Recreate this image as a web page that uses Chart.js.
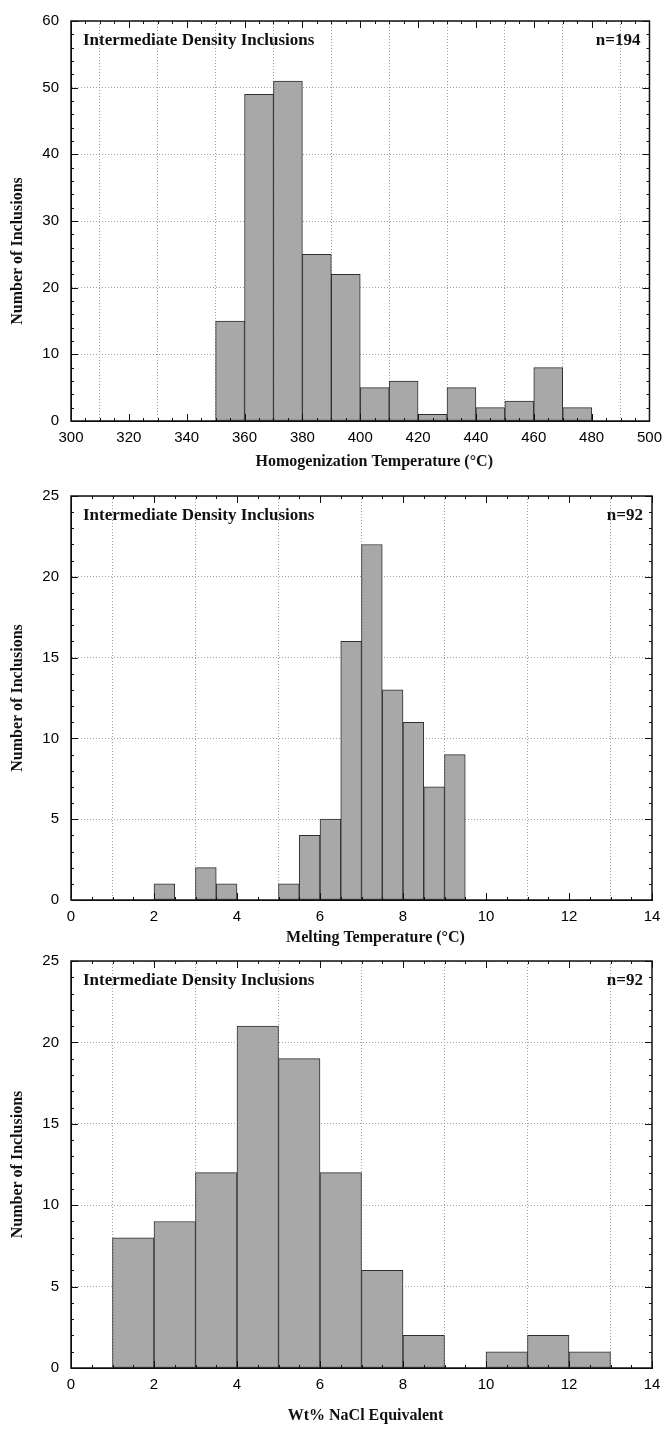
<!DOCTYPE html>
<html>
<head>
<meta charset="utf-8">
<script src="https://cdn.jsdelivr.net/npm/chart.js@4.4.1/dist/chart.umd.min.js"></script>
<style>
html, body { margin: 0; padding: 0; background: #fff; }
body { width: 670px; height: 1430px; position: relative; overflow: hidden; }
.panel { position: absolute; left: 0; width: 670px; }
</style>
</head>
<body>
<div class="panel" style="top:0px;height:475px"><canvas id="c1"></canvas></div>
<div class="panel" style="top:475px;height:480px"><canvas id="c2"></canvas></div>
<div class="panel" style="top:940px;height:490px"><canvas id="c3"></canvas></div>
<script>
// homogenization temperature, 10 degree bins (centres)
var thCenters = [355, 365, 375, 385, 395, 405, 415, 425, 435, 445, 455, 465, 475];
var thCounts  = [15, 49, 51, 25, 22, 5, 6, 1, 5, 2, 3, 8, 2];

// ice melting temperature, 0.5 degree bins
var tmCenters = [2.25, 3.25, 3.75, 5.25, 5.75, 6.25, 6.75, 7.25, 7.75, 8.25, 8.75, 9.25];
var tmCounts  = [1, 2, 1, 1, 4, 5, 16, 22, 13, 11, 7, 9];

// salinity, 1 wt% bins
var salCenters = [1.5, 2.5, 3.5, 4.5, 5.5, 6.5, 7.5, 8.5, 10.5, 11.5, 12.5];
var salCounts  = [8, 9, 12, 21, 19, 12, 6, 2, 1, 2, 1];

var panelLabel = 'Intermediate Density Inclusions';
var yTitle = 'Number of Inclusions';

var framePlugin = {
  id: 'frame',
  afterDraw: function(chart, args, o) {
    var ctx = chart.ctx, a = chart.chartArea;
    var xs = chart.scales.x, ys = chart.scales.y;
    var i, n, v, p, len;
    ctx.save();
    ctx.strokeStyle = '#111';
    ctx.lineWidth = 1;
    ctx.beginPath();
    n = Math.round((xs.max - xs.min) / o.xMinor);
    for (i = 0; i <= n; i++) {
      v = xs.min + i * o.xMinor;
      p = Math.round(xs.getPixelForValue(v)) + 0.5;
      len = (i % o.xRatio === 0) ? 7 : 3;
      ctx.moveTo(p, a.bottom); ctx.lineTo(p, a.bottom - len);
      ctx.moveTo(p, a.top); ctx.lineTo(p, a.top + len);
    }
    n = Math.round((ys.max - ys.min) / o.yMinor);
    for (i = 0; i <= n; i++) {
      v = ys.min + i * o.yMinor;
      p = Math.round(ys.getPixelForValue(v)) + 0.5;
      len = (i % o.yRatio === 0) ? 7 : 3;
      ctx.moveTo(a.left, p); ctx.lineTo(a.left + len, p);
      ctx.moveTo(a.right, p); ctx.lineTo(a.right - len, p);
    }
    ctx.stroke();
    ctx.lineWidth = 1.5;
    ctx.strokeRect(a.left, a.top, a.right - a.left, a.bottom - a.top);

    ctx.fillStyle = '#111';
    ctx.font = 'bold 17px "Liberation Serif"';
    ctx.textBaseline = 'middle';
    ctx.textAlign = 'left';
    ctx.fillText(panelLabel, a.left + 12, a.top + 20);
    ctx.textAlign = 'right';
    ctx.fillText(o.nText, a.right - 9, a.top + 20);

    // x axis title
    ctx.font = 'bold 16px "Liberation Serif"';
    ctx.textAlign = 'center';
    ctx.fillText(o.xTitle, (a.left + a.right) / 2 + o.xShift, a.bottom + o.xTitleGap);

    // y axis title
    ctx.translate(18, (a.top + a.bottom) / 2 + o.yShift);
    ctx.rotate(-Math.PI / 2);
    ctx.fillText(yTitle, 0, 0);
    ctx.restore();
  }
};

function makeHist(id, centers, counts, o) {
  var pts = centers.map(function(c, i) { return {x: c, y: counts[i]}; });
  return new Chart(document.getElementById(id), {
    type: 'bar',
    data: {
      datasets: [{
        data: pts,
        backgroundColor: '#a8a8a8',
        borderColor: '#2e2e2e',
        borderWidth: 1,
        borderSkipped: false,
        barPercentage: 1,
        categoryPercentage: 1
      }]
    },
    options: {
      responsive: true,
      maintainAspectRatio: false,
      animation: false,
      layout: { padding: { top: o.padTop, right: 18, left: 0, bottom: 0 } },
      plugins: {
        legend: { display: false },
        tooltip: { enabled: false },
        frame: o
      },
      scales: {
        x: {
          type: 'linear',
          min: o.xMin, max: o.xMax,
          offset: false,
          afterFit: function(s) { s.height = o.axisH; },
          ticks: {
            stepSize: o.xStep,
            padding: 8,
            maxRotation: 0,
            color: '#000',
            font: { family: 'Liberation Sans', size: 15 }
          },
          grid: { color: '#a0a0a0', lineWidth: 1, drawTicks: false },
          border: { color: '#000', width: 1, dash: [1, 2] }
        },
        y: {
          min: 0, max: o.yMax,
          afterFit: function(s) { s.width = 71; },
          ticks: {
            stepSize: o.yStep,
            padding: 12,
            color: '#000',
            font: { family: 'Liberation Sans', size: 15 }
          },
          grid: { color: '#a0a0a0', lineWidth: 1, drawTicks: false },
          border: { color: '#000', width: 1, dash: [1, 2] }
        }
      }
    },
    plugins: [framePlugin]
  });
}

makeHist('c1', thCenters, thCounts, {
  xMin: 300, xMax: 500, xStep: 20, xMinor: 5, xRatio: 4,
  yMax: 60, yStep: 10, yMinor: 2, yRatio: 5,
  xTitle: 'Homogenization Temperature (°C)', nText: 'n=194',
  padTop: 15, axisH: 54, xTitleGap: 41, xShift: 14, yShift: 30
});
makeHist('c2', tmCenters, tmCounts, {
  xMin: 0, xMax: 14, xStep: 2, xMinor: 0.5, xRatio: 4,
  yMax: 25, yStep: 5, yMinor: 1, yRatio: 5,
  xTitle: 'Melting Temperature (°C)', nText: 'n=92',
  padTop: 13, axisH: 55, xTitleGap: 38, xShift: 14, yShift: 0
});
makeHist('c3', salCenters, salCounts, {
  xMin: 0, xMax: 14, xStep: 2, xMinor: 0.5, xRatio: 4,
  yMax: 25, yStep: 5, yMinor: 1, yRatio: 5,
  xTitle: 'Wt% NaCl Equivalent', nText: 'n=92',
  padTop: 18, axisH: 62, xTitleGap: 48, xShift: 4, yShift: 0
});
</script>
</body>
</html>
